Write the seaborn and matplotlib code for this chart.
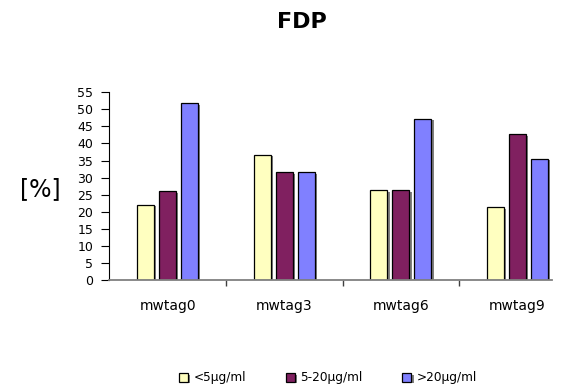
import matplotlib
matplotlib.use("Agg")
import matplotlib.pyplot as plt
import matplotlib.patheffects as pe
import numpy as np
import pandas as pd
import seaborn as sns

# Share of FDP results per concentration band at each sampling day
days = ["mwtag0", "mwtag3", "mwtag6", "mwtag9"]
bands = ["<5µg/ml", "5-20µg/ml", ">20µg/ml"]
low = [22.1, 36.7, 26.3, 21.3]
mid = [26.0, 31.5, 26.3, 42.8]
high = [51.8, 31.5, 47.3, 35.6]
y_ticks = list(range(0, 56, 5))

colors = ["#FFFFC0", "#802060", "#8080FF"]

df = pd.DataFrame({
    "day": days * 3,
    "band": [bands[0]] * 4 + [bands[1]] * 4 + [bands[2]] * 4,
    "pct": low + mid + high,
})

sns.set_style("white")
plt.rcParams["font.family"] = ["DejaVu Sans"]
plt.rcParams.update({
    "text.color": "black",
    "axes.labelcolor": "black",
    "xtick.color": "black",
    "ytick.color": "black",
})

fig = plt.figure(figsize=(5.65, 3.87), dpi=100)
ax = fig.add_axes([0.1935, 0.2765, 0.7835, 0.485])

sns.barplot(data=df, x="day", y="pct", hue="band", order=days,
            hue_order=bands, palette=colors, width=0.5655, gap=0.225,
            edgecolor="black", linewidth=0.9, saturation=1, ax=ax,
            legend=True)

# soft grey drop shadow on the bars
for p in ax.patches:
    p.set_path_effects([pe.SimplePatchShadow(offset=(1.6, -1.2),
                                             shadow_rgbFace="#808080",
                                             alpha=1.0),
                        pe.Normal()])

handles, labels = ax.get_legend_handles_labels()
ax.get_legend().remove()

ax.set_xlim(-0.5, -0.5 + 443 / 116.7)
ax.set_ylim(0, 55)
ax.set_yticks(y_ticks)
ax.set_yticklabels([str(t) for t in y_ticks], fontsize=9, color="black")
ax.set_xlabel("")
ax.set_ylabel("")

for s in ["top", "right"]:
    ax.spines[s].set_visible(False)
ax.spines["left"].set_color("black")
ax.spines["left"].set_linewidth(0.8)
ax.spines["bottom"].set_color("#808080")
ax.spines["bottom"].set_linewidth(1.3)

ax.tick_params(axis="y", which="major", direction="out", length=6,
               width=0.8, color="black", pad=5.5, left=True)
ax.tick_params(axis="x", which="major", length=0, pad=13.5, labelsize=10,
               labelcolor="black")
ax.set_xticks([0.5, 1.5, 2.5], minor=True)
ax.tick_params(axis="x", which="minor", direction="out", length=4,
               width=1.0, color="#404040", bottom=True)

fig.text(301.7 / 565, 1 - 22 / 387, "FDP", ha="center", va="center",
         fontsize=16, fontweight="bold", color="black")
fig.text(40 / 565, 1 - 189 / 387, "[%]", ha="center", va="center",
         fontsize=17, color="black")

leg = fig.legend(handles, labels, loc="center",
                 bbox_to_anchor=(328 / 565, 1 - 378 / 387),
                 ncol=3, frameon=False, fontsize=8.7, handlelength=0.75,
                 handleheight=0.75, handletextpad=0.45, columnspacing=3.3,
                 borderpad=0, borderaxespad=0)
for t in leg.get_texts():
    t.set_color("black")

fig.savefig("out.png", dpi=100)
